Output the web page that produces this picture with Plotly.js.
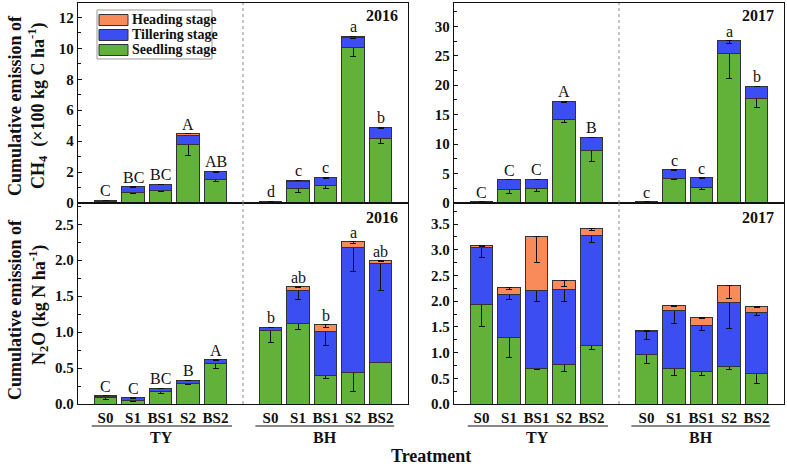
<!DOCTYPE html>
<html>
<head>
<meta charset="utf-8">
<script src="https://cdn.plot.ly/plotly-3.0.1.min.js"></script>
<style>html,body{margin:0;padding:0;background:#fff;}#chart{width:787px;height:466px;}</style>
</head>
<body>
<div id="chart"></div>
<script>
// ---------- DATA ----------
const treatments = ['S0', 'S1', 'BS1', 'S2', 'BS2'];
const sites = ['TY', 'BH'];
const stages = ['Seedling stage', 'Tillering stage', 'Heading stage'];

// CH4 2016 (×100 kg C ha-1), order: TY S0..BS2, BH S0..BS2
const ch4_2016_seedling  = [0.08, 0.65, 0.78, 3.80, 1.51, 0.05, 0.93, 1.10, 10.04, 4.17];
const ch4_2016_tillering = [0.08, 0.39, 0.41, 0.58, 0.52, 0.06, 0.49, 0.52, 0.64, 0.69];
const ch4_2016_heading   = [0.01, 0.02, 0.02, 0.11, 0.02, 0.00, 0.05, 0.06, 0.11, 0.04];
const ch4_2016_err_seedling  = [0.02, 0.06, 0.05, 0.76, 0.12, 0.01, 0.22, 0.15, 0.55, 0.35];
const ch4_2016_err_tillering = [0.01, 0.03, 0.02, 0.04, 0.03, 0.01, 0.04, 0.04, 0.06, 0.04];
const ch4_2016_err_heading   = [0, 0, 0, 0.02, 0, 0, 0, 0, 0.02, 0];
const ch4_2016_letters = ['C', 'BC', 'BC', 'A', 'AB', 'd', 'c', 'c', 'a', 'b'];

// CH4 2017
const ch4_2017_seedling  = [0.12, 2.26, 2.43, 14.2, 8.94, 0.12, 4.24, 2.60, 25.35, 17.7];
const ch4_2017_tillering = [0.10, 1.70, 1.64, 3.10, 2.26, 0.10, 1.42, 1.70, 2.21, 2.10];
const ch4_2017_heading   = [0, 0, 0, 0, 0, 0, 0, 0, 0, 0];
const ch4_2017_err_seedling  = [0.02, 0.6, 0.4, 0.6, 1.9, 0.02, 0.3, 0.3, 4.2, 1.5];
const ch4_2017_err_tillering = [0.01, 0.05, 0.05, 0.15, 0.1, 0.01, 0.1, 0.1, 0.4, 0.1];
const ch4_2017_err_heading   = [0, 0, 0, 0, 0, 0, 0, 0, 0, 0];
const ch4_2017_letters = ['C', 'C', 'C', 'A', 'B', 'c', 'c', 'c', 'a', 'b'];

// N2O 2016 (kg N ha-1)
const n2o_2016_seedling  = [0.085, 0.05, 0.176, 0.282, 0.57, 1.018, 1.12, 0.398, 0.444, 0.583];
const n2o_2016_tillering = [0.025, 0.035, 0.044, 0.051, 0.046, 0.052, 0.46, 0.612, 1.732, 1.371];
const n2o_2016_heading   = [0.005, 0.003, 0, 0, 0, 0, 0.05, 0.09, 0.084, 0.041];
const n2o_2016_err_seedling  = [0.02, 0.01, 0.03, 0.01, 0.08, 0.16, 0.08, 0.04, 0.27, 0.01];
const n2o_2016_err_tillering = [0.005, 0.005, 0.01, 0.01, 0.01, 0.01, 0.13, 0.2, 0.33, 0.38];
const n2o_2016_err_heading   = [0, 0, 0, 0, 0, 0, 0.01, 0.03, 0.03, 0.01];
const n2o_2016_letters = ['C', 'C', 'BC', 'B', 'A', 'b', 'ab', 'b', 'a', 'ab'];

// N2O 2017
const n2o_2017_seedling  = [1.94, 1.295, 0.70, 0.765, 1.133, 0.972, 0.70, 0.635, 0.72, 0.584];
const n2o_2017_tillering = [1.10, 0.841, 1.507, 1.465, 2.154, 0.438, 1.118, 0.893, 1.26, 1.203];
const n2o_2017_heading   = [0.05, 0.134, 1.043, 0.18, 0.128, 0.02, 0.091, 0.162, 0.317, 0.109];
const n2o_2017_err_seedling  = [0.43, 0.40, 0.03, 0.13, 0.08, 0.19, 0.14, 0.08, 0.05, 0.19];
const n2o_2017_err_tillering = [0.19, 0.11, 0.21, 0.24, 0.15, 0.15, 0.25, 0.10, 0.52, 0.07];
const n2o_2017_err_heading   = [0.03, 0.05, 0.5, 0.12, 0.04, 0.01, 0.01, 0.03, 0.25, 0.01];
const n2o_2017_letters = [];

const years = ['2016', '2017'];

// ---------- STYLE ----------
const COLORS = ['#62b23a', '#3b4ef2', '#f98a5a'];
const FONT = 'Liberation Serif, Times New Roman, serif';
const ticktext = sites.flatMap(() => treatments);
const xpos = sites.flatMap((s, i) => treatments.map((t, j) => i * (treatments.length + 1) + j));
const divider = treatments.length;

const panels = [
  { xa: 'x',  ya: 'y',  seg: [ch4_2016_seedling, ch4_2016_tillering, ch4_2016_heading],
    err: [ch4_2016_err_seedling, ch4_2016_err_tillering, ch4_2016_err_heading], letters: ch4_2016_letters, year: years[0] },
  { xa: 'x2', ya: 'y2', seg: [ch4_2017_seedling, ch4_2017_tillering, ch4_2017_heading],
    err: [ch4_2017_err_seedling, ch4_2017_err_tillering, ch4_2017_err_heading], letters: ch4_2017_letters, year: years[1] },
  { xa: 'x3', ya: 'y3', seg: [n2o_2016_seedling, n2o_2016_tillering, n2o_2016_heading],
    err: [n2o_2016_err_seedling, n2o_2016_err_tillering, n2o_2016_err_heading], letters: n2o_2016_letters, year: years[0] },
  { xa: 'x4', ya: 'y4', seg: [n2o_2017_seedling, n2o_2017_tillering, n2o_2017_heading],
    err: [n2o_2017_err_seedling, n2o_2017_err_tillering, n2o_2017_err_heading], letters: n2o_2017_letters, year: years[1] }
];

const traces = [];
const annotations = [];
const shapes = [];

panels.forEach(p => {
  p.seg.forEach((vals, k) => {
    traces.push({
      type: 'bar', x: xpos, y: vals, xaxis: p.xa, yaxis: p.ya, name: stages[k], showlegend: false,
      width: 0.82,
      marker: { color: COLORS[k], line: { color: '#333', width: 1 } },
      error_y: { type: 'data', symmetric: false, array: vals.map(() => 0), arrayminus: p.err[k],
                 color: '#111', thickness: 1, width: 3 }
    });
  });
  // letters
  p.letters.forEach((L, i) => {
    const tot = p.seg[0][i] + p.seg[1][i] + p.seg[2][i];
    annotations.push({ xref: p.xa, yref: p.ya, x: xpos[i], y: tot, text: L, showarrow: false,
      yanchor: 'bottom', yshift: -1, font: { family: FONT, size: 16, color: '#111' } });
  });
  // year
  const bottomRow = (p.ya === 'y3' || p.ya === 'y4');
  annotations.push({ xref: p.xa + ' domain', yref: p.ya + ' domain', x: 0.975, y: bottomRow ? 0.93 : 0.94,
    xanchor: 'right', yanchor: 'middle', text: p.year, showarrow: false,
    font: { family: FONT, size: 16, color: '#111', weight: 'bold' } });
  // divider
  shapes.push({ type: 'line', xref: p.xa, yref: p.ya + ' domain', x0: divider, x1: divider, y0: 0, y1: 1,
    line: { color: '#8a8a8a', width: 1, dash: 'dot' } });
});

// group labels under bottom panels
['x3', 'x4'].forEach(xa => {
  const ranges = [[-0.5, 4.6], [5.45, 10.5]];
  sites.forEach((s, i) => {
    shapes.push({ type: 'line', xref: xa, yref: 'paper', x0: ranges[i][0], x1: ranges[i][1],
      y0: 1 - 426 / 466, y1: 1 - 426 / 466, line: { color: '#111', width: 1 } });
    annotations.push({ xref: xa, yref: 'paper', x: (ranges[i][0] + ranges[i][1]) / 2, y: 1 - 437 / 466,
      text: s, showarrow: false, yanchor: 'middle', font: { family: FONT, size: 16, color: '#111', weight: 'bold' } });
  });
});

// y titles
const ytitles = [
  { x: 15, y: 106, t: 'Cumulative emission of' },
  { x: 38, y: 106, t: 'CH<sub>4</sub>  (×100 kg C ha<sup>-1</sup>)' },
  { x: 15, y: 310, t: 'Cumulative emission of' },
  { x: 38, y: 305, t: 'N<sub>2</sub>O (kg N ha<sup>-1</sup>)' }
];
ytitles.forEach(a => annotations.push({ xref: 'paper', yref: 'paper', x: a.x / 787, y: 1 - a.y / 466,
  xanchor: 'center', yanchor: 'middle', textangle: -90, text: a.t, showarrow: false,
  font: { family: FONT, size: 18, color: '#111', weight: 'bold' } }));

annotations.push({ xref: 'paper', yref: 'paper', x: 431 / 787, y: 1 - 456 / 466, text: 'Treatment',
  showarrow: false, xanchor: 'center', yanchor: 'middle', font: { family: FONT, size: 18, color: '#111', weight: 'bold' } });

// custom legend (top-left panel)
shapes.push({ type: 'rect', xref: 'paper', yref: 'paper', x0: 97 / 787, x1: 212 / 787, y0: 1 - 59 / 466, y1: 1 - 10 / 466,
  line: { color: '#999', width: 1 }, fillcolor: '#fff' });
[[2, 14.5], [1, 29.5], [0, 44.5]].forEach(([k, top]) => {
  shapes.push({ type: 'rect', xref: 'paper', yref: 'paper', x0: 99 / 787, x1: 128 / 787,
    y0: 1 - (top + 11) / 466, y1: 1 - top / 466, line: { color: '#333', width: 1 }, fillcolor: COLORS[k] });
  annotations.push({ xref: 'paper', yref: 'paper', x: 130 / 787, y: 1 - (top + 5.5) / 466, xanchor: 'left', yanchor: 'middle',
    text: stages[k], showarrow: false, font: { family: FONT, size: 14, color: '#111', weight: 'bold' } });
});

const xdom = [[78 / 787, 408 / 787], [454 / 787, 784 / 787]];
const ydom = [[1 - 203 / 466, 1 - 3 / 466], [1 - 404 / 466, 1 - 203 / 466]];

function xax(dom, anchor, showLabels) {
  return { domain: dom, anchor: anchor, range: [-1, 11], showgrid: false, zeroline: false,
    showline: true, mirror: true, linecolor: '#111', linewidth: 1.3, ticks: '',
    tickvals: xpos, ticktext: ticktext, showticklabels: showLabels,
    tickfont: { family: FONT, size: 15, color: '#111', weight: 'bold' } };
}
function yax(dom, anchor, range, dtick, fmt) {
  return { domain: dom, anchor: anchor, range: range, dtick: dtick, tick0: 0, showgrid: false, zeroline: false,
    showline: true, mirror: true, linecolor: '#111', linewidth: 1.3, ticks: 'inside', ticklen: 4, tickcolor: '#111',
    tickformat: fmt, minor: { dtick: dtick / 2, ticks: 'inside', ticklen: 2.5, tickcolor: '#111', showgrid: false },
    tickfont: { family: FONT, size: 15, color: '#111', weight: 'bold' } };
}

const layout = {
  width: 787, height: 466, margin: { l: 0, r: 0, t: 0, b: 0 },
  paper_bgcolor: '#fff', plot_bgcolor: '#fff', barmode: 'stack', showlegend: false,
  xaxis: xax(xdom[0], 'y', false),
  xaxis2: xax(xdom[1], 'y2', false),
  xaxis3: xax(xdom[0], 'y3', true),
  xaxis4: xax(xdom[1], 'y4', true),
  yaxis: yax(ydom[0], 'x', [0, 12.93], 2, 'd'),
  yaxis2: yax(ydom[0], 'x2', [0, 33.96], 5, 'd'),
  yaxis3: yax(ydom[1], 'x3', [0, 2.796], 0.5, '.1f'),
  yaxis4: yax(ydom[1], 'x4', [0, 3.91], 0.5, '.1f'),
  annotations: annotations, shapes: shapes
};

Plotly.newPlot('chart', traces, layout, { staticPlot: true, displayModeBar: false });
</script>
</body>
</html>
